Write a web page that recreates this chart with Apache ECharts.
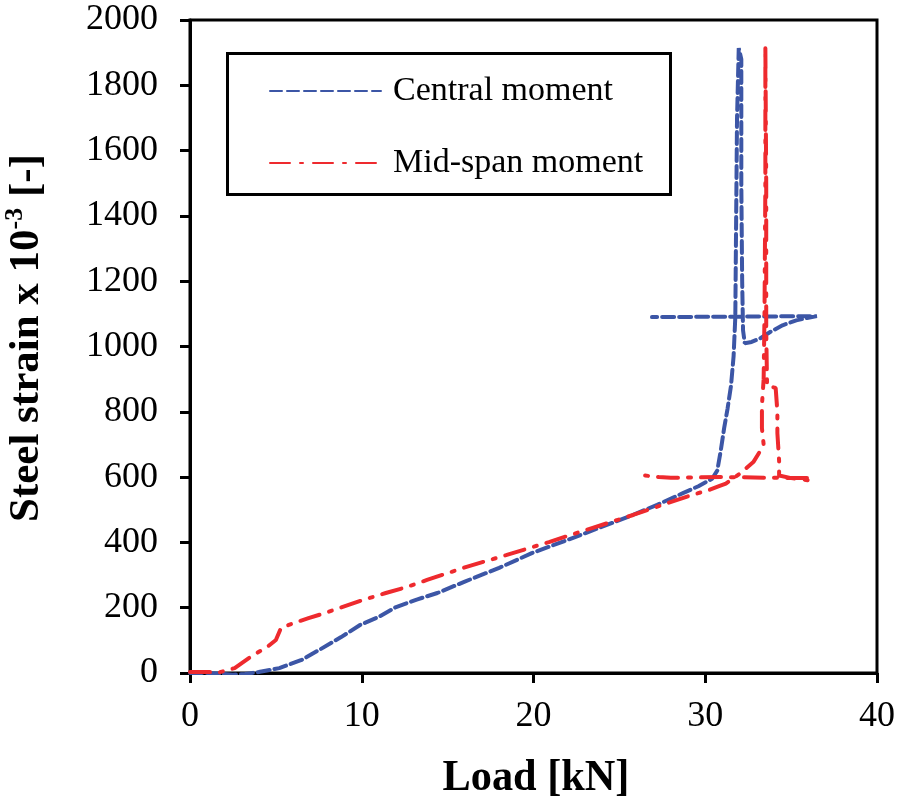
<!DOCTYPE html>
<html>
<head>
<meta charset="utf-8">
<script src="https://cdn.jsdelivr.net/npm/echarts@6/dist/echarts.min.js"></script>
<style>
html,body{margin:0;padding:0;background:#fff;}
#chart{width:898px;height:803px;}
</style>
</head>
<body>
<div id="chart"></div>
<script>
const seriesNames = ['Central moment', 'Mid-span moment'];
const xTicks = [0, 10, 20, 30, 40];
const yTicks = [0, 200, 400, 600, 800, 1000, 1200, 1400, 1600, 1800, 2000];

const centralLoad = [0, 1.0, 1.8, 2.5, 3.2, 4.0, 5.2, 6.5, 7.6, 8.8, 9.9, 11.0, 12.0, 13.2, 14.4, 16.0, 18.0, 19.9, 22.0, 23.8, 25.5, 27.2, 28.7, 29.6, 30.4, 30.7, 30.9, 31.1, 31.3, 31.5, 31.65, 31.75, 31.8, 31.85, 31.95, 32.1, 32.1, 32.15, 32.2, 32.3, 32.7, 33.2, 33.8, 34.5, 35.3, 36.0, 36.5, 26.9];
const centralStrain = [0, 0, -2, -5, -3, 3, 15, 40, 73, 110, 147, 172, 202, 225, 245, 280, 322, 367, 408, 444, 478, 515, 551, 572, 595, 620, 680, 750, 810, 880, 970, 1090, 1400, 1700, 1914, 1880, 1500, 1200, 1050, 1010, 1014, 1025, 1045, 1065, 1080, 1088, 1093, 1090];

const midLoad = [0, 1.0, 1.7, 2.6, 3.6, 4.5, 5.0, 5.3, 6.2, 6.9, 7.7, 8.7, 10.1, 11.4, 12.6, 13.8, 16.1, 18.4, 20.9, 23.4, 25.8, 27.5, 29.2, 30.2, 30.8, 31.2, 32.0, 32.4, 32.8, 33.2, 33.4, 33.3, 33.3, 33.4, 33.45, 33.5, 33.5, 33.55, 33.55, 33.6, 34.1, 34.2, 34.2, 34.3, 34.3, 35.0, 35.6, 36.2, 36.0, 34.0, 31.0, 28.0, 27.3, 26.3];
const midStrain = [3, 3, 2, 15, 52, 80, 101, 138, 156, 168, 181, 199, 224, 245, 263, 285, 325, 361, 401, 444, 484, 515, 545, 560, 572, 580, 610, 628, 646, 680, 700, 750, 820, 900, 1100, 1500, 1920, 1500, 1050, 880, 873, 800, 735, 650, 605, 597, 594, 588, 597, 598, 600, 598, 600, 606];

const zip = (a, b) => a.map((v, i) => [v, b[i]]);
const FONT = '"Liberation Serif", "Times New Roman", serif';

const chart = echarts.init(document.getElementById('chart'), null, {renderer: 'canvas'});
chart.setOption({
  animation: false,
  backgroundColor: '#fff',
  grid: {left: 190, right: 20, top: 20, bottom: 130, show: true, borderColor: '#000', borderWidth: 3, backgroundColor: 'transparent'},
  xAxis: {
    type: 'value', min: xTicks[0], max: xTicks[xTicks.length - 1], interval: 10,
    axisLine: {show: true, onZero: false, lineStyle: {color: '#000', width: 3}},
    axisTick: {show: true, inside: false, length: 10, lineStyle: {color: '#000', width: 3}},
    axisLabel: {color: '#000', fontFamily: FONT, fontSize: 36, margin: 26, formatter: v => String(v)},
    splitLine: {show: false}
  },
  yAxis: {
    type: 'value', min: yTicks[0], max: yTicks[yTicks.length - 1], interval: 200,
    axisLine: {show: true, onZero: false, lineStyle: {color: '#000', width: 3}},
    axisTick: {show: true, inside: false, length: 10, lineStyle: {color: '#000', width: 3}},
    axisLabel: {color: '#000', fontFamily: FONT, fontSize: 36, margin: 32, formatter: v => String(v)},
    splitLine: {show: false}
  },
  legend: {
    show: true, orient: 'vertical', left: 264, top: 69, itemWidth: 111, itemHeight: 14, itemGap: 38,
    itemStyle: {opacity: 0},
    textStyle: {color: '#000', fontFamily: FONT, fontSize: 34, padding: [0, 0, 0, 7]},
    data: seriesNames
  },
  graphic: [
    {type: 'rect', left: 225, top: 51, shape: {width: 443, height: 141}, style: {fill: 'none', stroke: '#000', lineWidth: 3}, z: 100},
    {type: 'text', x: 25, y: 338, rotation: Math.PI / 2,
     style: {text: '{a|Steel strain x 10}{s|-3}{a| [-]}', align: 'center', verticalAlign: 'middle',
       rich: {a: {fontFamily: FONT, fontSize: 43, fontWeight: 'bold', fill: '#000', lineHeight: 46, verticalAlign: 'bottom'},
              s: {fontFamily: FONT, fontSize: 26, fontWeight: 'bold', fill: '#000', lineHeight: 24, verticalAlign: 'top'}}}},
    {type: 'text', x: 536, y: 778, scaleX: 0.94,
     style: {text: 'Load [kN]', align: 'center', verticalAlign: 'middle', fontFamily: FONT, fontSize: 45, fontWeight: 'bold', fill: '#000'}}
  ],
  series: [
    {name: seriesNames[0], type: 'line', symbol: 'none', data: zip(centralLoad, centralStrain),
     lineStyle: {color: '#3c56a6', width: 4, type: [12, 5], cap: 'round'}, itemStyle: {color: '#3c56a6'}},
    {name: seriesNames[1], type: 'line', symbol: 'none', data: zip(midLoad, midStrain),
     lineStyle: {color: '#ee2a2e', width: 4, type: [20, 10, 3, 10], cap: 'round'}, itemStyle: {color: '#ee2a2e'}}
  ]
});
</script>
</body>
</html>
